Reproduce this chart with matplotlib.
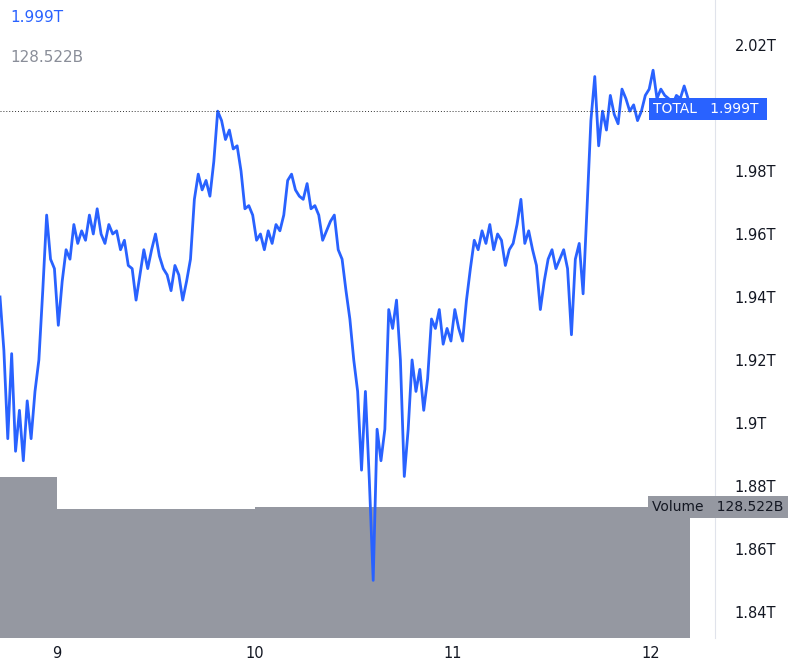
import numpy as np
import matplotlib
matplotlib.use("Agg")
import matplotlib.pyplot as plt

total = [1.940,1.923,1.895,1.922,1.891,1.904,1.888,1.907,1.895,1.910,1.920,1.942,1.966,1.952,1.949,1.931,1.945,1.955,1.952,1.963,1.957,1.961,1.958,1.966,1.960,1.968,1.960,1.957,1.963,1.960,1.961,1.955,1.958,1.950,1.949,1.939,1.947,1.955,1.949,1.955,1.960,1.953,1.949,1.947,1.942,1.950,1.947,1.939,1.945,1.952,1.971,1.979,1.974,1.977,1.972,1.983,1.999,1.996,1.990,1.993,1.987,1.988,1.980,1.968,1.969,1.966,1.958,1.960,1.955,1.961,1.957,1.963,1.961,1.966,1.977,1.979,1.974,1.972,1.971,1.976,1.968,1.969,1.966,1.958,1.961,1.964,1.966,1.955,1.952,1.942,1.933,1.920,1.910,1.885,1.910,1.882,1.850,1.898,1.888,1.898,1.936,1.930,1.939,1.920,1.883,1.898,1.920,1.910,1.917,1.904,1.914,1.933,1.930,1.936,1.925,1.930,1.926,1.936,1.930,1.926,1.939,1.949,1.958,1.955,1.961,1.957,1.963,1.955,1.960,1.958,1.950,1.955,1.957,1.963,1.971,1.957,1.961,1.955,1.950,1.936,1.945,1.952,1.955,1.949,1.952,1.955,1.949,1.928,1.952,1.957,1.941,1.968,1.996,2.010,1.988,1.999,1.993,2.004,1.998,1.995,2.006,2.003,1.999,2.001,1.996,1.999,2.004,2.006,2.012,2.003,2.006,2.004,2.003,2.001,2.004,2.003,2.007,2.003]
t_start, t_end = 8.712, 12.187
times = np.linspace(t_start, t_end, len(total))

vol_edges = [8.712, 9.0, 10.0, 11.0, 12.0]
vol_widths = [0.288, 1.0, 1.0, 1.0, 0.197]
volume = [158.0, 126.6, 128.5, 128.522, 128.522]

x_ticks = [9, 10, 11, 12]
y_ticks = [1.84, 1.86, 1.88, 1.90, 1.92, 1.94, 1.96, 1.98, 2.00, 2.02]
y_labels = ["1.84T","1.86T","1.88T","1.9T","1.92T","1.94T","1.96T","1.98T","","2.02T"]

W, H = 792, 663
fig = plt.figure(figsize=(W/100, H/100), dpi=100)
ax = fig.add_axes([0, 25/H, 715/W, 638/H])
axv = ax.twinx()
axv.set_zorder(0); ax.set_zorder(1); ax.patch.set_visible(False)

axv.bar(vol_edges, volume, width=vol_widths, align='edge', color='#9598a1', linewidth=0)
axv.set_ylim(0, 626)
axv.axis('off')

ax.plot(times, total, color='#2962ff', lw=2)
ax.axhline(1.999, color='#333333', lw=0.7, ls=(0, (1, 2)))
ax.set_ylim(1.8317, 2.0343)
ax.set_xlim(8.712, 12.323)
for s in ['top', 'left', 'bottom']:
    ax.spines[s].set_visible(False)
ax.spines['right'].set_color('#e0e3eb')
ax.yaxis.tick_right()
ax.set_yticks(y_ticks)
ax.set_yticklabels(y_labels, fontsize=10.5, color='#131722')
ax.set_xticks(x_ticks)
ax.set_xticklabels([str(v) for v in x_ticks], fontsize=10.5, color='#131722')
ax.tick_params(length=0, pad=14)
ax.tick_params(axis='x', pad=6)

fig.text(10/W, 1-18/H, "1.999T", color='#2962ff', fontsize=11, va='center')
fig.text(10/W, 1-57/H, "128.522B", color='#8a8e99', fontsize=11, va='center')

fig.text(653/W, 1-109/H, "TOTAL   1.999T ", color='white', fontsize=10, va='center',
         bbox=dict(boxstyle='square,pad=0.3', fc='#2962ff', ec='none'))
fig.text(652/W, 1-507/H, "Volume   128.522B", color='#131722', fontsize=10, va='center',
         bbox=dict(boxstyle='square,pad=0.3', fc='#9598a1', ec='none'))

fig.savefig("out.png", dpi=100)
